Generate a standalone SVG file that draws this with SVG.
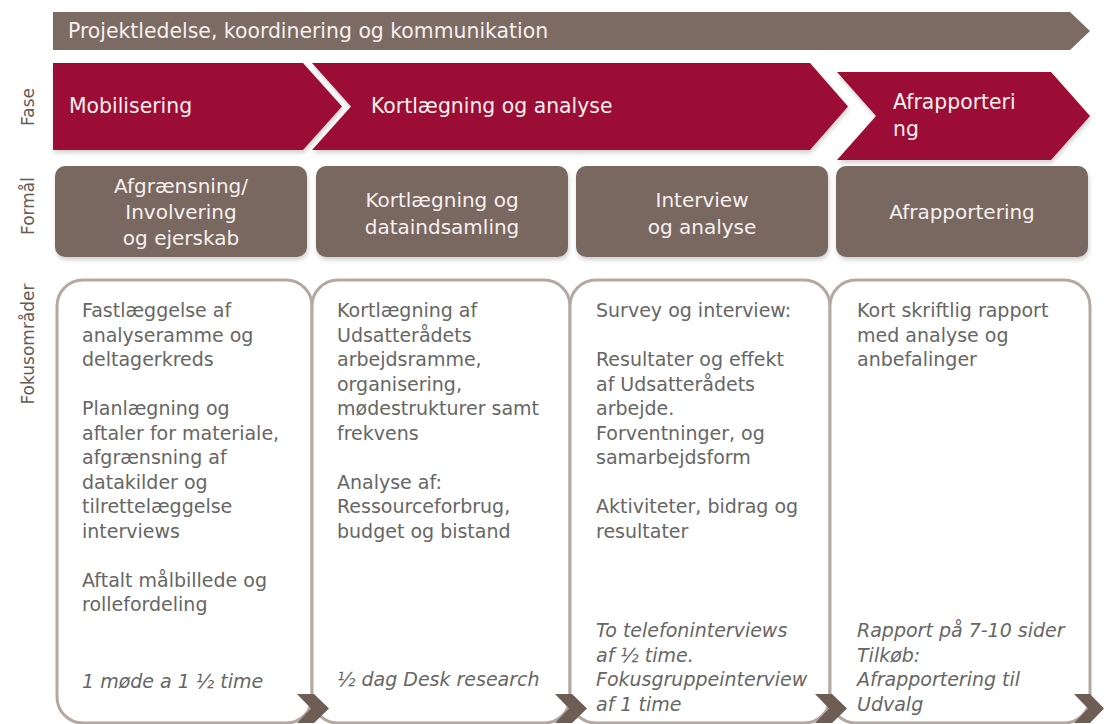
<svg xmlns="http://www.w3.org/2000/svg" width="1104" height="724" viewBox="0 0 1104 724">
<defs>
<filter id="sh" x="-5%" y="-5%" width="110%" height="120%">
<feDropShadow dx="1" dy="3" stdDeviation="2" flood-color="#000" flood-opacity="0.18"/>
</filter>
</defs>
<style>
text{font-family:"DejaVu Sans","Noto Sans",sans-serif;}
.banner{fill:#7b6b63;}
.phase{fill:#9c0b34;filter:url(#sh);}
.purp{fill:#786861;filter:url(#sh);}
.focus{fill:#ffffff;stroke:#b4a9a2;stroke-width:3;}
.chev{fill:#6e5d55;}
.wt{fill:#f7f0ef;}
.bt{font-size:20.4px;}
.pt{font-size:20.4px;}
.ft{font-size:20px;text-anchor:middle;}
.gt{fill:#666666;font-size:19px;}
.it{font-style:italic;}
.lab{fill:#665a54;font-size:17px;text-anchor:middle;}
</style>
<rect width="1104" height="724" fill="#ffffff"/>

<g id="labels">
<text class="lab" transform="translate(34,107) rotate(-90)">Fase</text>
<text class="lab" transform="translate(34,206) rotate(-90)">Formål</text>
<text class="lab" transform="translate(34,344) rotate(-90)">Fokusområder</text>
</g>

<g id="banner">
<polygon class="banner" points="53,12 1070,12 1090,31 1070,50 53,50"/>
<text class="wt bt" x="68" y="38">Projektledelse, koordinering og kommunikation</text>
</g>

<g id="phase-mobilisering">
<polygon class="phase" points="53,63 303,63 342,106.5 303,150 53,150"/>
<text class="wt pt" x="69" y="113">Mobilisering</text>
</g>
<g id="phase-kortlaegning">
<polygon class="phase" points="312,63 810,63 848,106.5 810,150 312,150 351,106.5"/>
<text class="wt pt" x="371" y="113">Kortlægning og analyse</text>
</g>
<g id="phase-afrapportering">
<polygon class="phase" points="837,72 1051,72 1090,116 1051,160 837,160 876,116"/>
<text class="wt pt" x="893" y="109">Afrapporteri</text>
<text class="wt pt" x="893" y="136">ng</text>
</g>

<g id="formaal-1">
<rect class="purp" x="55" y="166" width="252" height="91" rx="10"/>
<text class="wt ft" x="181" y="193">Afgrænsning/</text>
<text class="wt ft" x="181" y="219">Involvering</text>
<text class="wt ft" x="181" y="245">og ejerskab</text>
</g>
<g id="formaal-2">
<rect class="purp" x="316" y="166" width="252" height="91" rx="10"/>
<text class="wt ft" x="442" y="207">Kortlægning og</text>
<text class="wt ft" x="442" y="234">dataindsamling</text>
</g>
<g id="formaal-3">
<rect class="purp" x="576" y="166" width="252" height="91" rx="10"/>
<text class="wt ft" x="702" y="207">Interview</text>
<text class="wt ft" x="702" y="234">og analyse</text>
</g>
<g id="formaal-4">
<rect class="purp" x="836" y="166" width="252" height="91" rx="10"/>
<text class="wt ft" x="962" y="219">Afrapportering</text>
</g>

<g id="fokus-1">
<rect class="focus" x="57" y="280" width="255" height="443" rx="26"/>
<text class="gt" x="82" y="317">Fastlæggelse af</text>
<text class="gt" x="82" y="341.5">analyseramme og</text>
<text class="gt" x="82" y="366">deltagerkreds</text>
<text class="gt" x="82" y="415">Planlægning og</text>
<text class="gt" x="82" y="439.5">aftaler for materiale,</text>
<text class="gt" x="82" y="464">afgrænsning af</text>
<text class="gt" x="82" y="488.5">datakilder og</text>
<text class="gt" x="82" y="513">tilrettelæggelse</text>
<text class="gt" x="82" y="537.5">interviews</text>
<text class="gt" x="82" y="586.5">Aftalt målbillede og</text>
<text class="gt" x="82" y="611">rollefordeling</text>
<text class="gt it" x="82" y="688">1 møde a 1 ½ time</text>
</g>
<g id="fokus-2">
<rect class="focus" x="312" y="280" width="258" height="443" rx="26"/>
<text class="gt" x="337" y="317">Kortlægning af</text>
<text class="gt" x="337" y="341.5">Udsatterådets</text>
<text class="gt" x="337" y="366">arbejdsramme,</text>
<text class="gt" x="337" y="390.5">organisering,</text>
<text class="gt" x="337" y="415">mødestrukturer samt</text>
<text class="gt" x="337" y="439.5">frekvens</text>
<text class="gt" x="337" y="488.5">Analyse af:</text>
<text class="gt" x="337" y="513">Ressourceforbrug,</text>
<text class="gt" x="337" y="537.5">budget og bistand</text>
<text class="gt it" x="337" y="686">½ dag Desk research</text>
</g>
<g id="fokus-3">
<rect class="focus" x="570" y="280" width="260" height="443" rx="26"/>
<text class="gt" x="596" y="317">Survey og interview:</text>
<text class="gt" x="596" y="366">Resultater og effekt</text>
<text class="gt" x="596" y="390.5">af Udsatterådets</text>
<text class="gt" x="596" y="415">arbejde.</text>
<text class="gt" x="596" y="439.5">Forventninger, og</text>
<text class="gt" x="596" y="464">samarbejdsform</text>
<text class="gt" x="596" y="513">Aktiviteter, bidrag og</text>
<text class="gt" x="596" y="537.5">resultater</text>
<text class="gt it" x="596" y="637">To telefoninterviews</text>
<text class="gt it" x="596" y="661.5">af ½ time.</text>
<text class="gt it" x="596" y="686">Fokusgruppeinterview</text>
<text class="gt it" x="596" y="710.5">af 1 time</text>
</g>
<g id="fokus-4">
<rect class="focus" x="830" y="280" width="260" height="443" rx="26"/>
<text class="gt" x="857" y="317">Kort skriftlig rapport</text>
<text class="gt" x="857" y="341.5">med analyse og</text>
<text class="gt" x="857" y="366">anbefalinger</text>
<text class="gt it" x="857" y="637">Rapport på 7-10 sider</text>
<text class="gt it" x="857" y="661.5">Tilkøb:</text>
<text class="gt it" x="857" y="686">Afrapportering til</text>
<text class="gt it" x="857" y="710.5">Udvalg</text>
</g>

<g id="connectors">
<polygon class="chev" points="297,694 314,694 329,708.5 314,723 297,723 311,708.5"/>
<polygon class="chev" points="555,694 572,694 587,708.5 572,723 555,723 569,708.5"/>
<polygon class="chev" points="815,694 832,694 847,708.5 832,723 815,723 829,708.5"/>
<polygon class="chev" points="1074,694 1090,694 1104,708.5 1090,723 1074,723 1088,708.5"/>
</g>
</svg>
